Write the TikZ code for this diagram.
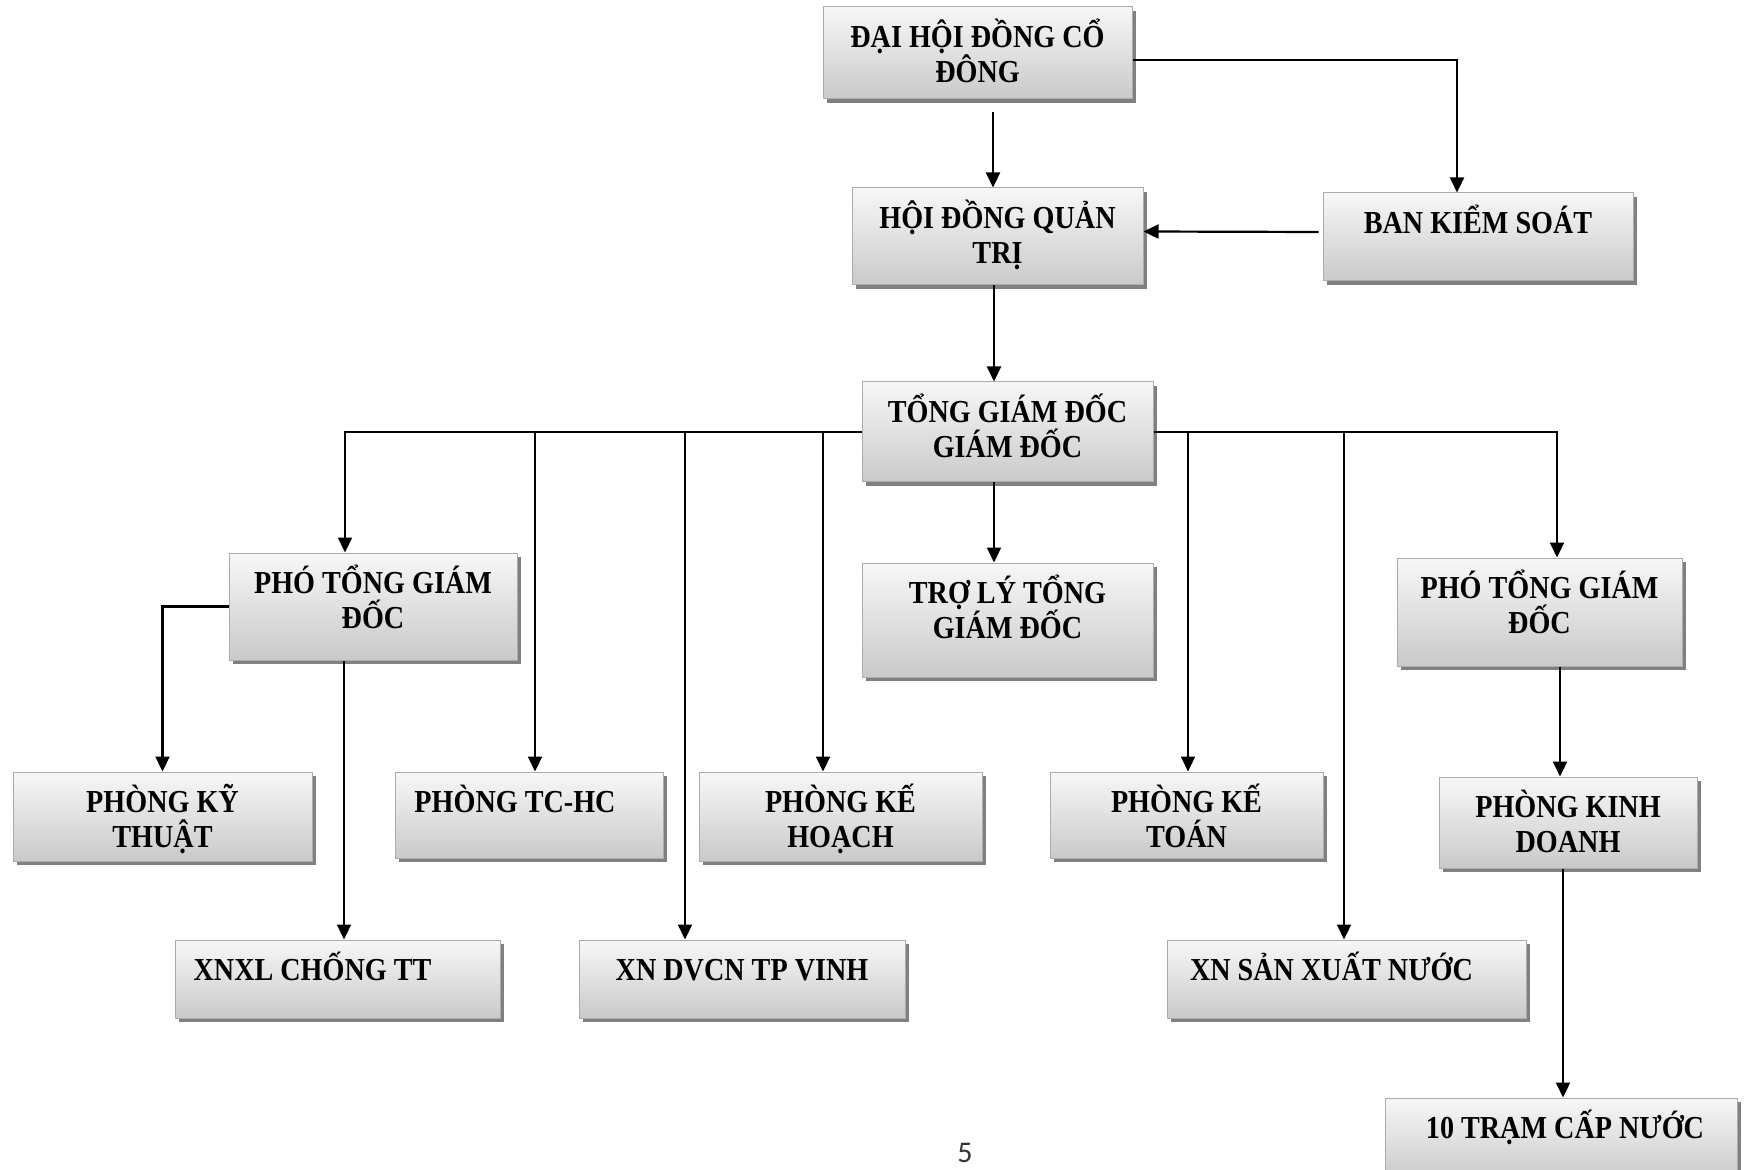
\documentclass[tikz,border=0pt]{standalone}
\usepackage{fontspec}
\setmainfont{Liberation Serif}[FakeStretch=0.88]
\newfontfamily\pagefont{Carlito}
\usetikzlibrary{arrows.meta,shadows}
\newcommand{\twoline}[2]{\begin{tabular}[t]{@{}c@{}}\smash{#1}\\\smash{#2}\end{tabular}}
\begin{document}
\begin{tikzpicture}[x=0.5pt,y=-0.5pt,
  box/.style={draw=gray!65, line width=0.5pt, top color=gray!6, bottom color=gray!42,
    inner sep=0pt,
    drop shadow={shadow xshift=1.8pt, shadow yshift=-1.8pt, fill=black!55, opacity=0.9}},
  lbl/.style={anchor=base, inner sep=0pt, font=\bfseries\fontsize{16}{17.5}\selectfont},
  arr/.style={-{Triangle[length=7.5pt,width=7pt]}, line width=1.1pt}]
\useasboundingbox (0,0) rectangle (1749,1170);
\fill[white] (0,0) rectangle (1749,1170);

% boxes
\node[box, minimum width=154.5pt, minimum height=46pt]   (dh)   at (977.5,53)   {};
\node[box, minimum width=145.5pt, minimum height=48.5pt] (hd)   at (997.5,236.5) {};
\node[box, minimum width=155pt,   minimum height=44pt]   (bks)  at (1478,237)   {};
\node[box, minimum width=145.5pt, minimum height=50pt]   (tgd)  at (1007.5,432) {};
\node[box, minimum width=144pt,   minimum height=53.5pt] (ptl)  at (373,606.5)  {};
\node[box, minimum width=145.5pt, minimum height=57pt]   (tly)  at (1007.5,620) {};
\node[box, minimum width=142.5pt, minimum height=54pt]   (ptr)  at (1539.5,612) {};
\node[box, minimum width=149.5pt, minimum height=44.5pt] (pkt)  at (162.5,816.5) {};
\node[box, minimum width=134pt,   minimum height=43pt]   (ptc)  at (529,815)    {};
\node[box, minimum width=141.5pt, minimum height=44.5pt] (pkh)  at (840.5,816.5) {};
\node[box, minimum width=136.5pt, minimum height=43pt]   (pkto) at (1186.5,815) {};
\node[box, minimum width=129pt,   minimum height=45.5pt] (pkd)  at (1568,822.5) {};
\node[box, minimum width=162.5pt, minimum height=39pt]   (xnxl) at (337.5,979)  {};
\node[box, minimum width=163pt,   minimum height=39pt]   (xndv) at (742,979)    {};
\node[box, minimum width=179.5pt, minimum height=39pt]   (xnsx) at (1346.5,979) {};
\node[box, minimum width=176pt,   minimum height=41pt]   (tram) at (1561,1139)  {};

% texts
\node[lbl] (dht)   at ([yshift=-20.5pt]dh.north)   {\twoline{ĐẠI HỘI ĐỒNG CỔ}{ĐÔNG}};
\node[lbl] (hdt)   at ([yshift=-20.5pt]hd.north)   {\twoline{HỘI ĐỒNG QUẢN}{TRỊ}};
\node[lbl] (bkst)  at ([yshift=-20.5pt]bks.north) {BAN KIỂM SOÁT};
\node[lbl] (tgdt)  at ([yshift=-20.5pt]tgd.north)  {\twoline{TỔNG GIÁM ĐỐC}{GIÁM ĐỐC}};
\node[lbl] (ptlt)  at ([yshift=-20.5pt]ptl.north)  {\twoline{PHÓ TỔNG GIÁM}{ĐỐC}};
\node[lbl] (tlyt)  at ([yshift=-20.5pt]tly.north)  {\twoline{TRỢ LÝ TỔNG}{GIÁM ĐỐC}};
\node[lbl] (ptrt)  at ([yshift=-20.5pt]ptr.north)  {\twoline{PHÓ TỔNG GIÁM}{ĐỐC}};
\node[lbl] (pktt)  at ([yshift=-20.5pt]pkt.north)  {\twoline{PHÒNG KỸ}{THUẬT}};
\node[lbl] (ptct)  at ([xshift=-7pt,yshift=-20.5pt]ptc.north) {PHÒNG TC-HC};
\node[lbl] (pkht)  at ([yshift=-20.5pt]pkh.north)  {\twoline{PHÒNG KẾ}{HOẠCH}};
\node[lbl] (pktot) at ([yshift=-20.5pt]pkto.north) {\twoline{PHÒNG KẾ}{TOÁN}};
\node[lbl] (pkdt)  at ([yshift=-20.5pt]pkd.north)  {\twoline{PHÒNG KINH}{DOANH}};
\node[lbl] (xnxlt) at ([xshift=-12.5pt,yshift=-20.5pt]xnxl.north) {XNXL CHỐNG TT};
\node[lbl] (xndvt) at ([yshift=-20.5pt]xndv.north) {XN DVCN TP VINH};
\node[lbl] (xnsxt) at ([xshift=-7.5pt,yshift=-20.5pt]xnsx.north) {XN SẢN XUẤT NƯỚC};
\node[lbl] (tramt) at ([xshift=2pt,yshift=-20.5pt]tram.north) {10 TRẠM CẤP NƯỚC};

% page number
\node[anchor=base, inner sep=0pt, font=\pagefont\fontsize{15}{18}\selectfont, text=black!80] (pg) at (965,1162) {5};

% helper coordinates
\coordinate (c1) at (993,112);
\coordinate (c2) at (994,0);
\coordinate (bL) at (345,432);
\coordinate (bR) at (1557,432);
\coordinate (d1) at (535,432);
\coordinate (d2) at (685,432);
\coordinate (d3) at (823,432);
\coordinate (d4) at (1188,432);
\coordinate (d5) at (1344,432);
\coordinate (e1) at (344,0);
\coordinate (e2) at (1560,0);
\coordinate (e3) at (1563,0);

% connectors
\draw[arr] (c1) -- (c1 |- hd.north);
\draw[arr] ([yshift=-3.5pt]dh.east) -| ([xshift=-10.5pt]bks.north);
\draw[arr] ([xshift=-2pt,yshift=2.5pt]bks.west) -- ([yshift=2.5pt]hd.east);
\draw[arr] (c2 |- hd.south) -- (c2 |- tgd.north);
\draw[arr] (c2 |- tgd.south) -- (c2 |- tly.north);
\draw[arr] (tgd.west) -- (bL) -- (bL |- ptl.north);
\draw[arr] (tgd.east) -- (bR) -- (bR |- ptr.north);
\draw[arr] (d1) -- (d1 |- ptc.north);
\draw[arr] (d2) -- (d2 |- xndv.north);
\draw[arr] (d3) -- (d3 |- pkh.north);
\draw[arr] (d4) -- (d4 |- pkto.north);
\draw[arr] (d5) -- (d5 |- xnsx.north);
\draw[arr] (ptl.west) -| (pkt.north);
\draw[arr] (e1 |- ptl.south) -- (e1 |- xnxl.north);
\draw[arr] (e2 |- ptr.south) -- (e2 |- pkd.north);
\draw[arr] (e3 |- pkd.south) -- (e3 |- tram.north);
\end{tikzpicture}
\end{document}
